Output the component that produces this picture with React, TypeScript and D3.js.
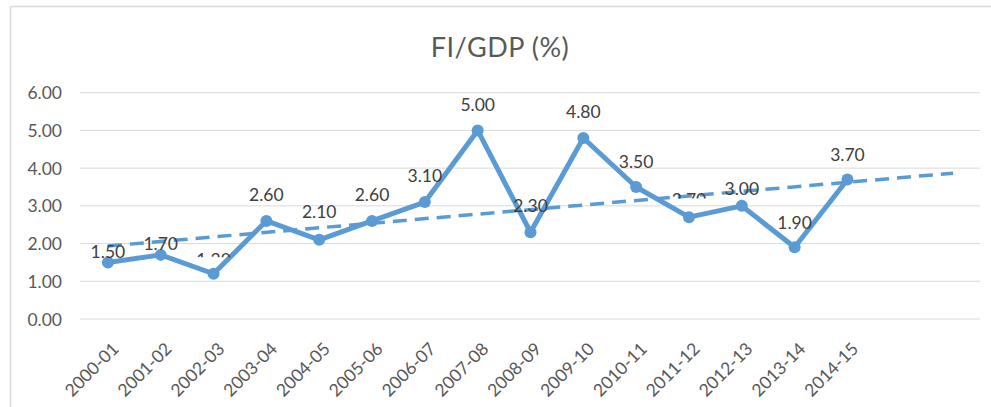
import React from "react";
import * as d3 from "d3";

const categories = [
  "2000-01", "2001-02", "2002-03", "2003-04", "2004-05", "2005-06", "2006-07", "2007-08",
  "2008-09", "2009-10", "2010-11", "2011-12", "2012-13", "2013-14", "2014-15",
];
const values = [1.5, 1.7, 1.2, 2.6, 2.1, 2.6, 3.1, 5.0, 2.3, 4.8, 3.5, 2.7, 3.0, 1.9, 3.7];
const forecastPeriods = 2;
const yTicks = [0, 1, 2, 3, 4, 5, 6];
const title = "FI/GDP (%)";

// label vertical offsets above point (px) and visible fraction (for partially hidden labels)
const labelOffsets = [11, 11, 14, 26, 28, 26, 27, 26, 26.5, 26, 25, 18, 17, 25, 25];
const labelVisible = [1, 1, 0.3, 1, 1, 1, 1, 1, 1, 1, 1, 0.45, 1, 1, 1];

const W = 991;
const H = 407;
const FONT = "Lato, 'Open Sans', sans-serif";

export default function App() {
  const slots = d3.range(categories.length + forecastPeriods);
  const x = d3.scaleBand<number>().domain(slots).range([81.5, 979.5]);
  const cx = (i: number) => (x(i) as number) + x.bandwidth() / 2;
  const y = d3.scaleLinear().domain([0, 6]).range([319, 92.7]);

  // linear least-squares trendline (Excel style), x = 1..n
  const n = values.length;
  const xs = values.map((_, i) => i + 1);
  const mx = d3.mean(xs) as number;
  const my = d3.mean(values) as number;
  const sxy = d3.sum(values.map((v, i) => (xs[i] - mx) * (v - my)));
  const sxx = d3.sum(xs.map((v) => (v - mx) ** 2));
  const slope = sxy / sxx;
  const icpt = my - slope * mx;
  const t0 = 0;
  const t1 = n - 1 + forecastPeriods;
  const trend = (i: number) => icpt + slope * (i + 1);

  const line = d3
    .line<number>()
    .x((_, i) => cx(i))
    .y((d) => y(d));

  return (
    <svg width={W} height={H} style={{ display: "block", position: "absolute", left: 0, top: 0 }}>
      <rect x={0} y={0} width={W} height={H} fill="#fff" />
      <line x1={10.5} y1={6.5} x2={W} y2={6.5} stroke="#d9d9d9" strokeWidth={1.5} />
      <line x1={10.5} y1={6.5} x2={10.5} y2={H} stroke="#d9d9d9" strokeWidth={1.5} />
      <defs>
        {values.map((v, i) =>
          labelVisible[i] < 1 ? (
            <clipPath id={`lc${i}`} key={i}>
              <rect
                x={cx(i) - 30}
                y={y(v) - labelOffsets[i] - 8}
                width={60}
                height={13 * labelVisible[i] + 1.5}
              />
            </clipPath>
          ) : null
        )}
      </defs>
      <text
        x={500}
        y={46}
        textAnchor="middle"
        dominantBaseline="central"
        fontFamily={FONT}
        fontSize={27}
        fill="#595959"
        letterSpacing={0.5}
      >
        {title}
      </text>
      {yTicks.map((t) => (
        <g key={t}>
          <line x1={80} x2={980} y1={y(t)} y2={y(t)} stroke="#d9d9d9" strokeWidth={1} />
          <text
            x={62}
            y={y(t)}
            textAnchor="end"
            dominantBaseline="central"
            fontFamily={FONT}
            fontSize={17.5}
            fill="#595959"
          >
            {t.toFixed(2)}
          </text>
        </g>
      ))}
      {categories.map((c, i) => (
        <text
          key={c}
          transform={`translate(${cx(i) + 12},${350}) rotate(-45)`}
          textAnchor="end"
          fontFamily={FONT}
          fontSize={17.5}
          fill="#595959"
        >
          {c}
        </text>
      ))}
      <path d={line(values) || ""} fill="none" stroke="#5b9bd5" strokeWidth={5} strokeLinejoin="round" />
      {values.map((v, i) => (
        <circle key={i} cx={cx(i)} cy={y(v)} r={6} fill="#5b9bd5" />
      ))}
      <line
        x1={cx(t0)}
        y1={y(trend(t0))}
        x2={cx(t1)}
        y2={y(trend(t1))}
        stroke="#5b9bd5"
        strokeWidth={3.5}
        strokeDasharray="14 8"
      />
      {values.map((v, i) => (
        <text
          key={i}
          x={cx(i)}
          y={y(v) - labelOffsets[i]}
          textAnchor="middle"
          dominantBaseline="central"
          fontFamily={FONT}
          fontSize={17.5}
          fill="#404040"
          clipPath={labelVisible[i] < 1 ? `url(#lc${i})` : undefined}
        >
          {v.toFixed(2)}
        </text>
      ))}
    </svg>
  );
}
